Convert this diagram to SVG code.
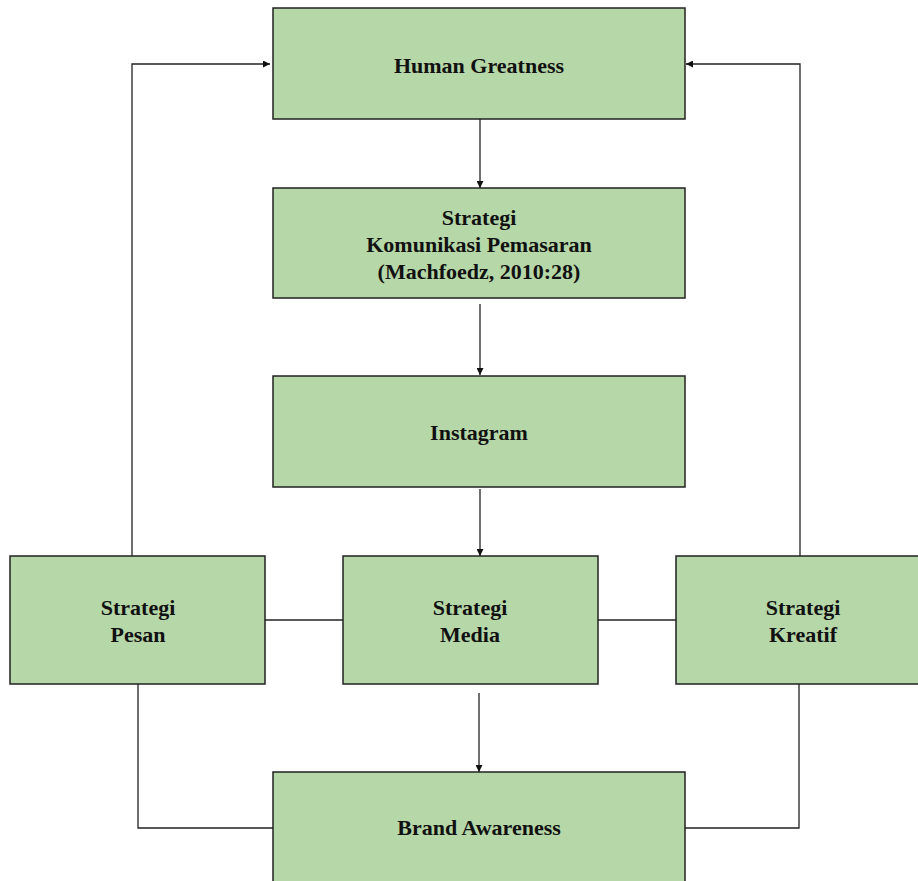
<svg xmlns="http://www.w3.org/2000/svg" width="918" height="881" viewBox="0 0 918 881">
<style>
.box{fill:#b6d7a8;stroke:#222;stroke-width:1.5}
.t{font-family:"Liberation Serif","Times New Roman",serif;font-weight:bold;font-size:22px;fill:#111;text-anchor:middle}
.c{fill:none;stroke:#222;stroke-width:1.3}
</style>
<defs>
<marker id="ah" viewBox="0 0 10 10" refX="10" refY="5" markerWidth="7" markerHeight="7" orient="auto" markerUnits="userSpaceOnUse">
<path d="M0,0 L10,5 L0,10 z" fill="#111"/>
</marker>
</defs>
<rect width="918" height="881" fill="#fff"/>
<g id="connectors">
<path class="c" d="M132,556 V64 H270" marker-end="url(#ah)"/>
<path class="c" d="M800,556 V64 H686" marker-end="url(#ah)"/>
<path class="c" d="M480,119 V188" marker-end="url(#ah)"/>
<path class="c" d="M480,304 V375" marker-end="url(#ah)"/>
<path class="c" d="M480,489 V556" marker-end="url(#ah)"/>
<path class="c" d="M265,620 H343"/>
<path class="c" d="M598,620 H676"/>
<path class="c" d="M479,693 V772" marker-end="url(#ah)"/>
<path class="c" d="M138,684 V828 H273"/>
<path class="c" d="M799,684 V828 H685"/>
</g>
<g id="human-greatness">
<rect class="box" x="273" y="8" width="412" height="111"/>
<text class="t" x="479" y="73">Human Greatness</text>
</g>
<g id="strategi-komunikasi">
<rect class="box" x="273" y="188" width="412" height="110"/>
<text class="t" x="479" y="225">Strategi</text>
<text class="t" x="479" y="252">Komunikasi Pemasaran</text>
<text class="t" x="479" y="279">(Machfoedz, 2010:28)</text>
</g>
<g id="instagram">
<rect class="box" x="273" y="376" width="412" height="111"/>
<text class="t" x="479" y="440">Instagram</text>
</g>
<g id="strategi-pesan">
<rect class="box" x="10" y="556" width="255" height="128"/>
<text class="t" x="138" y="615">Strategi</text>
<text class="t" x="138" y="642">Pesan</text>
</g>
<g id="strategi-media">
<rect class="box" x="343" y="556" width="255" height="128"/>
<text class="t" x="470" y="615">Strategi</text>
<text class="t" x="470" y="642">Media</text>
</g>
<g id="strategi-kreatif">
<rect class="box" x="676" y="556" width="255" height="128"/>
<text class="t" x="803" y="615">Strategi</text>
<text class="t" x="803" y="642">Kreatif</text>
</g>
<g id="brand-awareness">
<rect class="box" x="273" y="772" width="412" height="120"/>
<text class="t" x="479" y="835">Brand Awareness</text>
</g>
</svg>
